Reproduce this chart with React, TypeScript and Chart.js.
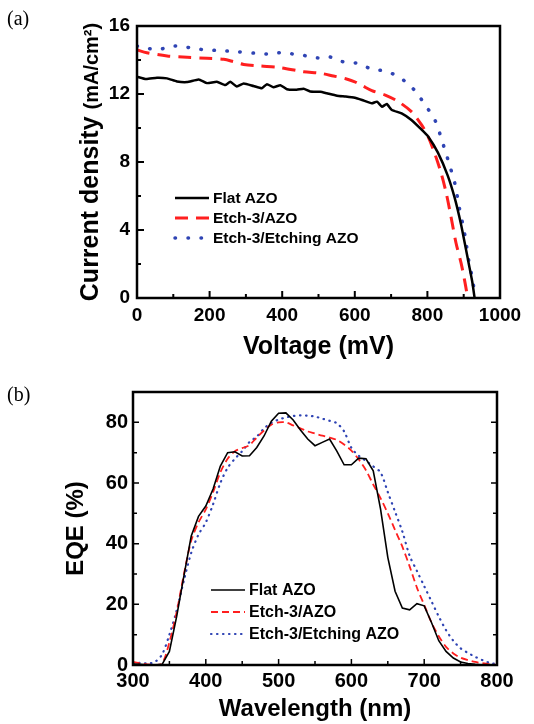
import React, { useEffect, useRef } from "react";
import { Chart, registerables } from "chart.js";

Chart.register(...registerables);

const SANS = '"Liberation Sans", Arial, Helvetica, sans-serif';
const SERIF = '"Liberation Serif", "Times New Roman", serif';

// ---------- (a) J-V data ----------
const seriesLabels = ["Flat AZO", "Etch-3/AZO", "Etch-3/Etching AZO"];

const flatVoltage = [0, 25, 55, 83, 110, 138, 170, 193, 220, 243, 257, 275, 294, 321, 344, 358, 376, 395, 413, 440, 459, 477, 505, 523, 551, 575, 600, 620, 647, 661, 675, 688, 702, 729, 756, 784, 802, 829, 856, 875, 893, 905, 915, 924, 930];
const flatCurrent = [13.02, 12.88, 12.96, 12.92, 12.74, 12.7, 12.86, 12.64, 12.72, 12.53, 12.72, 12.44, 12.62, 12.47, 12.34, 12.58, 12.4, 12.52, 12.28, 12.25, 12.31, 12.15, 12.13, 12.04, 11.9, 11.85, 11.78, 11.65, 11.45, 11.55, 11.25, 11.41, 11.06, 10.86, 10.47, 9.9, 9.5, 8.55, 7.2, 5.9, 4.3, 3.0, 1.9, 0.9, 0];

const etchVoltage = [0, 27, 83, 138, 193, 239, 266, 294, 339, 394, 459, 505, 541, 575, 600, 620, 647, 684, 720, 756, 784, 802, 820, 838, 852, 865, 879, 893, 904, 911];
const etchCurrent = [14.59, 14.43, 14.24, 14.16, 14.1, 14.04, 13.9, 13.74, 13.65, 13.55, 13.31, 13.22, 13.06, 12.9, 12.72, 12.5, 12.2, 11.94, 11.55, 10.96, 10.18, 9.49, 8.51, 7.33, 6.16, 4.78, 3.22, 2.04, 0.86, 0];

const etchingVoltage = [0, 27, 64, 92, 128, 165, 197, 229, 275, 330, 367, 394, 431, 468, 500, 532, 547, 584, 611, 647, 679, 711, 743, 770, 797, 820, 847, 861, 875, 888, 897, 904, 915, 922, 929];
const etchingCurrent = [14.82, 14.69, 14.63, 14.82, 14.78, 14.65, 14.59, 14.55, 14.49, 14.39, 14.35, 14.43, 14.35, 14.24, 14.12, 14.18, 14.0, 13.84, 13.8, 13.45, 13.37, 13.12, 12.67, 12.08, 11.25, 10.51, 8.8, 7.82, 6.8, 5.3, 4.39, 3.6, 2.04, 1.35, 0.47];

const voltageTicks = [0, 200, 400, 600, 800, 1000];
const currentTicks = [0, 4, 8, 12, 16];

// ---------- (b) EQE data ----------
const wavelengths = [300, 310, 320, 330, 340, 350, 360, 370, 380, 390, 400, 410, 420, 430, 440, 450, 460, 470, 480, 490, 500, 510, 520, 530, 540, 550, 560, 570, 580, 590, 600, 610, 620, 630, 640, 650, 660, 670, 680, 690, 700, 710, 720, 730, 740, 750, 760, 770, 780, 790, 800];
const eqeFlat = [0.3, 0.2, 0, 0, 0.2, 4.5, 16, 29.5, 42.5, 49, 52.4, 58, 65.6, 70, 70.3, 68.9, 69, 71.7, 75.5, 80.4, 83, 83.1, 80.8, 77.5, 74.5, 72.3, 73.4, 74.5, 70.5, 66, 66, 68.2, 68, 64, 51.5, 35.5, 24.3, 18.8, 18.2, 20.2, 19.5, 14, 8, 4.5, 2.3, 1, 0.5, 0.2, 0, 0, 0];
const eqeEtch = [1, 0.5, 0.2, 0, 0.5, 7.5, 17.5, 30, 41, 47, 51.3, 57, 63.5, 68, 70.5, 71.5, 72.5, 75, 77.3, 79.2, 80, 80, 79, 78, 77, 76.3, 75.6, 75, 74.2, 72.7, 70.7, 67.8, 64.2, 59.5, 55, 50, 44.5, 39, 32.5, 25.5, 19.8, 14, 9.5, 6, 3.8, 2.4, 1.6, 1, 0.6, 0.3, 0];
const eqeEtching = [0.5, 0.7, 0.5, 1, 3.5, 10, 18, 28, 37, 43, 47, 53, 60, 65, 68, 70.5, 73.5, 75.3, 78, 79.8, 80.9, 81.6, 82.1, 82.3, 82.2, 81.9, 81.2, 80.5, 79.7, 77, 71.6, 69, 67.3, 65.5, 63.5, 57, 50.5, 44, 36, 31, 26, 21, 16, 11.5, 8, 5.5, 4, 2.7, 1.6, 0.7, 0.3];

const wavelengthTicks = [300, 400, 500, 600, 700, 800];
const eqeTicks = [0, 20, 40, 60, 80];

// ---------- helpers ----------
const toPoints = (xs: number[], ys: number[]) => xs.map((x, i) => ({ x, y: ys[i] }));

const minorsOf = (vals: number[], max: number) => {
  const out: number[] = [];
  for (let i = 0; i < vals.length - 1; i++) out.push((vals[i] + vals[i + 1]) / 2);
  const step = vals[1] - vals[0];
  const last = vals[vals.length - 1] + step / 2;
  if (last <= max) out.push(last);
  return out;
};

type FrameOpts = {
  frame: number;
  major: number;
  minor: number;
  tickWidth: number;
  rightTicks: boolean;
};

const framePlugin = (o: FrameOpts) => ({
  id: "frameTicks",
  afterDatasetsDraw(chart: any) {
    const { ctx, chartArea, scales } = chart;
    const { left, right, top, bottom } = chartArea;
    const x = scales.x;
    const y = scales.y;
    ctx.save();
    ctx.strokeStyle = "#000";
    ctx.lineWidth = o.tickWidth;
    ctx.lineCap = "butt";
    const xMaj = x.ticks.map((t: any) => t.value);
    const yMaj = y.ticks.map((t: any) => t.value);
    const xMin = minorsOf(xMaj, x.max);
    const yMin = minorsOf(yMaj, y.max);
    ctx.beginPath();
    xMaj.forEach((v: number) => {
      const p = x.getPixelForValue(v);
      ctx.moveTo(p, bottom);
      ctx.lineTo(p, bottom - o.major);
    });
    xMin.forEach((v: number) => {
      const p = x.getPixelForValue(v);
      ctx.moveTo(p, bottom);
      ctx.lineTo(p, bottom - o.minor);
    });
    yMaj.forEach((v: number) => {
      const p = y.getPixelForValue(v);
      ctx.moveTo(left, p);
      ctx.lineTo(left + o.major, p);
      if (o.rightTicks) {
        ctx.moveTo(right, p);
        ctx.lineTo(right - o.major, p);
      }
    });
    yMin.forEach((v: number) => {
      const p = y.getPixelForValue(v);
      ctx.moveTo(left, p);
      ctx.lineTo(left + o.minor, p);
      if (o.rightTicks) {
        ctx.moveTo(right, p);
        ctx.lineTo(right - o.minor, p);
      }
    });
    ctx.stroke();
    ctx.lineWidth = o.frame;
    ctx.strokeRect(left, top, right - left, bottom - top);
    ctx.restore();
  },
});

type LegendOpts = {
  x0: number;
  x1: number;
  textX: number;
  rows: number[];
  font: string;
};

const legendPlugin = (o: LegendOpts) => ({
  id: "innerLegend",
  afterDatasetsDraw(chart: any) {
    const { ctx } = chart;
    ctx.save();
    chart.data.datasets.forEach((ds: any, i: number) => {
      const yy = o.rows[i];
      ctx.strokeStyle = ds.borderColor;
      ctx.lineWidth = ds.borderWidth;
      ctx.setLineDash(ds.borderDash || []);
      ctx.lineCap = ds.borderCapStyle || "butt";
      ctx.beginPath();
      ctx.moveTo(o.x0, yy);
      ctx.lineTo(o.x1, yy);
      ctx.stroke();
      ctx.setLineDash([]);
      ctx.fillStyle = "#000";
      ctx.font = o.font;
      ctx.textAlign = "left";
      ctx.textBaseline = "middle";
      ctx.fillText(ds.label, o.textX, yy + 1);
    });
    ctx.restore();
  },
});

const panelLabelPlugin = (text: string, x: number, y: number) => ({
  id: "panelLabel",
  afterDraw(chart: any) {
    const { ctx } = chart;
    ctx.save();
    ctx.fillStyle = "#000";
    ctx.font = `20px ${SERIF}`;
    ctx.textAlign = "left";
    ctx.textBaseline = "middle";
    ctx.fillText(text, x, y);
    ctx.restore();
  },
});

const jvYTitlePlugin = {
  id: "jvYTitle",
  afterDraw(chart: any) {
    const { ctx, chartArea } = chart;
    const part1 = "Current density ";
    const part2 = "(mA/cm\u00B2)";
    const f1 = `bold 25px ${SANS}`;
    const f2 = `bold 20px ${SANS}`;
    ctx.save();
    ctx.font = f1;
    const w1 = ctx.measureText(part1).width;
    ctx.font = f2;
    const w2 = ctx.measureText(part2).width;
    const cy = (chartArea.top + chartArea.bottom) / 2;
    ctx.translate(98, cy);
    ctx.rotate(-Math.PI / 2);
    ctx.fillStyle = "#000";
    ctx.textAlign = "left";
    ctx.textBaseline = "alphabetic";
    const start = -(w1 + w2) / 2;
    ctx.font = f1;
    ctx.fillText(part1, start, 0);
    ctx.font = f2;
    ctx.fillText(part2, start + w1, 0);
    ctx.restore();
  },
};

const tickFont = (size: number) => ({ family: SANS, size, weight: "bold" as const });
const plainLabel = (v: any) => String(v);

function buildJV(canvas: HTMLCanvasElement) {
  return new Chart(canvas, {
    type: "line",
    data: {
      datasets: [
        {
          label: seriesLabels[0],
          data: toPoints(flatVoltage, flatCurrent),
          borderColor: "#000000",
          borderWidth: 2.5,
          pointRadius: 0,
          tension: 0.15,
          fill: false,
        },
        {
          label: seriesLabels[1],
          data: toPoints(etchVoltage, etchCurrent),
          borderColor: "#ff1f1f",
          borderWidth: 3,
          borderDash: [13, 8],
          pointRadius: 0,
          tension: 0.3,
          fill: false,
        },
        {
          label: seriesLabels[2],
          data: toPoints(etchingVoltage, etchingCurrent),
          borderColor: "#2f44b4",
          borderWidth: 3.5,
          borderDash: [0.5, 12.5],
          borderCapStyle: "round",
          pointRadius: 0,
          tension: 0.3,
          fill: false,
        },
      ] as any,
    },
    options: {
      animation: false,
      responsive: false,
      maintainAspectRatio: false,
      layout: { padding: { left: 0, right: 34, top: 26, bottom: 0 } },
      plugins: { legend: { display: false }, tooltip: { enabled: false } },
      scales: {
        x: {
          type: "linear",
          min: 0,
          max: 1000,
          afterBuildTicks: (s: any) => {
            s.ticks = voltageTicks.map((v) => ({ value: v }));
          },
          afterFit: (s: any) => {
            s.height = 64;
          },
          ticks: { font: tickFont(19), color: "#000", padding: 6, maxRotation: 0, autoSkip: false, callback: plainLabel },
          grid: { display: false, drawTicks: false },
          border: { display: false },
          title: {
            display: true,
            text: "Voltage (mV)",
            color: "#000",
            font: { family: SANS, size: 25, weight: "bold" },
            padding: { top: 4, bottom: 0 },
          },
        },
        y: {
          type: "linear",
          min: 0,
          max: 16,
          afterBuildTicks: (s: any) => {
            s.ticks = currentTicks.map((v) => ({ value: v }));
          },
          afterFit: (s: any) => {
            s.width = 137;
          },
          ticks: { font: tickFont(19), color: "#000", padding: 7, autoSkip: false, callback: plainLabel },
          grid: { display: false, drawTicks: false },
          border: { display: false },
        },
      },
    } as any,
    plugins: [
      framePlugin({ frame: 2.5, major: 7, minor: 4, tickWidth: 2, rightTicks: false }),
      legendPlugin({ x0: 175, x1: 209, textX: 213, rows: [198, 218, 238], font: `bold 15.5px ${SANS}` }),
      panelLabelPlugin("(a)", 7, 20),
      jvYTitlePlugin,
    ],
  });
}

function buildEQE(canvas: HTMLCanvasElement) {
  return new Chart(canvas, {
    type: "line",
    data: {
      datasets: [
        {
          label: seriesLabels[0],
          data: toPoints(wavelengths, eqeFlat),
          borderColor: "#000000",
          borderWidth: 1.6,
          pointRadius: 0,
          tension: 0,
          fill: false,
        },
        {
          label: seriesLabels[1],
          data: toPoints(wavelengths, eqeEtch),
          borderColor: "#ff1f1f",
          borderWidth: 1.8,
          borderDash: [7, 4],
          pointRadius: 0,
          tension: 0.3,
          fill: false,
        },
        {
          label: seriesLabels[2],
          data: toPoints(wavelengths, eqeEtching),
          borderColor: "#2f44b4",
          borderWidth: 2.2,
          borderDash: [0.5, 5.5],
          borderCapStyle: "round",
          pointRadius: 0,
          tension: 0.3,
          fill: false,
        },
      ] as any,
    },
    options: {
      animation: false,
      responsive: false,
      maintainAspectRatio: false,
      layout: { padding: { left: 58, right: 37, top: 30, bottom: 0 } },
      plugins: { legend: { display: false }, tooltip: { enabled: false } },
      scales: {
        x: {
          type: "linear",
          min: 300,
          max: 800,
          afterBuildTicks: (s: any) => {
            s.ticks = wavelengthTicks.map((v) => ({ value: v }));
          },
          afterFit: (s: any) => {
            s.height = 59;
          },
          ticks: { font: tickFont(20), color: "#000", padding: 4, maxRotation: 0, autoSkip: false, callback: plainLabel },
          grid: { display: false, drawTicks: false },
          border: { display: false },
          title: {
            display: true,
            text: "Wavelength (nm)",
            color: "#000",
            font: { family: SANS, size: 24, weight: "bold" },
            padding: { top: 0, bottom: 0 },
          },
        },
        y: {
          type: "linear",
          min: 0,
          max: 90,
          afterBuildTicks: (s: any) => {
            s.ticks = eqeTicks.map((v) => ({ value: v }));
          },
          afterFit: (s: any) => {
            s.width = 75;
          },
          ticks: { font: tickFont(20), color: "#000", padding: 5, autoSkip: false, callback: plainLabel },
          grid: { display: false, drawTicks: false },
          border: { display: false },
          title: {
            display: true,
            text: "EQE (%)",
            color: "#000",
            font: { family: SANS, size: 24, weight: "bold" },
            padding: { top: 4, bottom: 0 },
          },
        },
      },
    } as any,
    plugins: [
      framePlugin({ frame: 2.5, major: 6, minor: 4, tickWidth: 1.5, rightTicks: true }),
      legendPlugin({ x0: 211, x1: 245, textX: 249, rows: [228, 250, 272], font: `bold 16px ${SANS}` }),
      panelLabelPlugin("(b)", 7, 34),
    ],
  });
}

export default function App() {
  const refA = useRef<HTMLCanvasElement | null>(null);
  const refB = useRef<HTMLCanvasElement | null>(null);

  useEffect(() => {
    const a = refA.current ? buildJV(refA.current) : null;
    const b = refB.current ? buildEQE(refB.current) : null;
    return () => {
      a?.destroy();
      b?.destroy();
    };
  }, []);

  return (
    <div style={{ position: "fixed", left: 0, top: 0, width: 534, height: 724, background: "#fff" }}>
      <canvas ref={refA} width={534} height={362} style={{ display: "block", position: "absolute", left: 0, top: 0 }} />
      <canvas ref={refB} width={534} height={362} style={{ display: "block", position: "absolute", left: 0, top: 362 }} />
    </div>
  );
}
